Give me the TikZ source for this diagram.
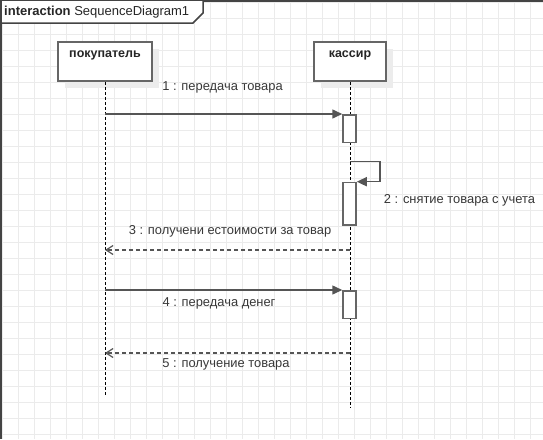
\documentclass[tikz,border=0pt]{standalone}
\usepackage{fontspec}
\setmainfont{Liberation Sans}
\usetikzlibrary{arrows.meta}
\definecolor{gridc}{HTML}{EBEBEB}
\definecolor{framec}{HTML}{444444}
\definecolor{msgc}{HTML}{555555}
\definecolor{actc}{HTML}{666666}
\definecolor{shadowc}{HTML}{ECECEC}
\tikzset{
  gridline/.style={draw=gridc, line width=1pt},
  lifebox/.style={draw=actc, line width=1.5pt, fill=white, minimum width=94pt, minimum height=39pt, inner sep=0pt},
  boxshadow/.style={fill=shadowc, draw=none},
  boxlabel/.style={font=\fontsize{12.5}{14}\selectfont\bfseries, text=black!85, inner sep=0pt},
  msglabel/.style={font=\fontsize{12.9}{14}\selectfont, text=black!78, inner sep=0pt},
  lifeline/.style={draw=black, line width=1pt, dash pattern=on 3pt off 2pt},
  actbox/.style={draw=actc, line width=1.5pt, fill=white, minimum width=13pt, inner sep=0pt},
  msg/.style={draw=msgc, line width=1.5pt, -{Triangle[length=10pt,width=9pt]}},
  ret/.style={draw=msgc, line width=1.5pt, dash pattern=on 4pt off 3pt, -{Straight Barb[length=7pt,width=9pt,line width=1.2pt]}},
}
\begin{document}
\begin{tikzpicture}[x=1pt,y=-1pt]
\useasboundingbox (0,0) rectangle (543,439);
\fill[white] (0,0) rectangle (543,439);
% grid
\foreach \i in {0,...,33} { \draw[gridline] (2+16*\i,0) -- (2+16*\i,439); }
\foreach \j in {0,...,27} { \draw[gridline] (0,2+16*\j) -- (543,2+16*\j); }
% frame
\draw[framec, line width=2.5pt] (1,439) -- (1,0.5) -- (543,0.5);
\filldraw[fill=white, draw=framec, line width=1.5pt] (1,1) -- (1,23) -- (193,23) -- (203,13) -- (203,1);
\node[anchor=west, inner sep=0pt, font=\fontsize{13}{15}\selectfont, text=black!85] (title) at (4,12) {\textbf{interaction} SequenceDiagram1};
% lifeline heads
\fill[boxshadow] (65,49) rectangle (159,88);
\fill[boxshadow] (321,49) rectangle (393,88);
\node[lifebox] (buyer) at (105,61.5) {};
\node[lifebox, minimum width=72pt] (cashier) at (350,61.5) {};
\node[boxlabel] (buyerlbl) at (105,55) {покупатель};
\node[boxlabel] (cashierlbl) at (350,55) {кассир};
% lifeline ends
\coordinate (buyerend) at (105,395);
\coordinate (cashierend) at (350,407);
\draw[lifeline] (buyer.south) -- (buyerend);
\draw[lifeline] (cashier.south) -- (cashierend);
% activations
\node[actbox, anchor=north, minimum height=27.7pt] (act1) at (349.5,114) {};
\node[actbox, anchor=north, minimum height=42.6pt] (act2) at (349.5,181.7) {};
\node[actbox, anchor=north, minimum height=27.7pt] (act3) at (349.5,290) {};
% message points
\coordinate (m1s) at (105,114);
\coordinate (m2s) at (350,161.7);
\coordinate (m2c) at (380,161.7);
\coordinate (m3s) at (350,250);
\coordinate (m3e) at (105,250);
\coordinate (m4s) at (105,290);
\coordinate (m5s) at (350,353);
\coordinate (m5e) at (105,353);
% messages
\draw[msg] (m1s) -- (act1.north west);
\draw[msg] (m2s) -- (m2c) |- (act2.north east);
\draw[ret] (m3s) -- (m3e);
\draw[msg] (m4s) -- (act3.north west);
\draw[ret] (m5s) -- (m5e);
% labels
\node[msglabel] (l1) at (222.5,87) {1 : передача товара};
\node[msglabel] (l2) at (459.5,200) {2 : снятие товара с учета};
\node[msglabel] (l3) at (230,231.5) {3 : получени естоимости за товар};
\node[msglabel] (l4) at (219,303.3) {4 : передача денег};
\node[msglabel] (l5) at (226,364) {5 : получение товара};
\end{tikzpicture}
\end{document}
